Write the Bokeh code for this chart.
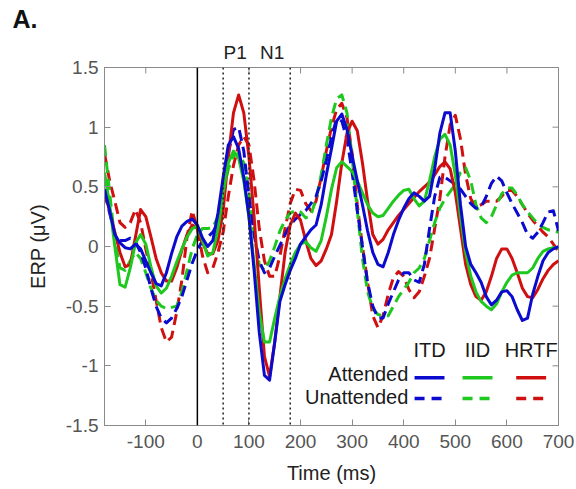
import math
from bokeh.plotting import figure
from bokeh.models import Range1d, FixedTicker, Span, CustomJSTickFormatter, Title
from bokeh.embed import file_html
from bokeh.resources import INLINE
from bokeh.core.properties import value

# ---------------- data ----------------
time_ms = list(range(-180, 701, 10))

itd_attended = [
    0.48, 0.30, 0.10, 0.03, -0.01, -0.02, 0.02, -0.02, -0.12, -0.22,
    -0.31, -0.33, -0.22, -0.06, 0.08, 0.17, 0.21, 0.23, 0.18, 0.07,
    0.00, 0.05, 0.28, 0.58, 0.85, 0.92, 0.82, 0.58, 0.25, -0.20,
    -0.72, -1.08, -1.12, -0.80, -0.46, -0.32, -0.20, -0.10, 0.02, 0.08,
    0.14, 0.18, 0.35, 0.60, 0.82, 1.05, 1.11, 0.98, 0.76, 0.55,
    0.35, 0.13, -0.05, -0.15, -0.17, -0.05, 0.10, 0.22, 0.32, 0.40,
    0.45, 0.42, 0.38, 0.42, 0.65, 0.95, 1.12, 1.12, 0.80, 0.35,
    0.00, -0.15, -0.22, -0.30, -0.42, -0.49, -0.45, -0.38, -0.37, -0.42,
    -0.53, -0.62, -0.60, -0.40, -0.25, -0.12, -0.05, -0.02, 0.00,
]
itd_unattended = [
    0.45, 0.28, 0.10, 0.05, 0.05, 0.07, 0.04, -0.05, -0.18, -0.35,
    -0.50, -0.60, -0.64, -0.60, -0.52, -0.42, -0.28, -0.14, -0.03, 0.05,
    0.08, 0.12, 0.20, 0.48, 0.78, 0.98, 1.00, 0.80, 0.42, 0.10,
    -0.12, -0.22, -0.18, -0.08, 0.01, 0.10, 0.18, 0.23, 0.27, 0.30,
    0.36, 0.42, 0.55, 0.72, 0.92, 1.07, 1.05, 0.90, 0.62, 0.30,
    0.00, -0.30, -0.50, -0.60, -0.60, -0.48, -0.38, -0.28, -0.22, -0.22,
    -0.28, -0.30, -0.15, 0.15, 0.42, 0.58, 0.58, 0.55, 0.52, 0.48,
    0.42, 0.36, 0.32, 0.33, 0.42, 0.53, 0.59, 0.55, 0.45, 0.36,
    0.28, 0.20, 0.10, 0.07, 0.12, 0.20, 0.29, 0.30, 0.13,
]
iid_attended = [
    0.62, 0.35, 0.00, -0.32, -0.34, -0.18, 0.03, 0.10, 0.02, -0.17,
    -0.33, -0.39, -0.35, -0.25, -0.13, -0.02, 0.08, 0.15, 0.17, 0.05,
    -0.08, -0.05, 0.15, 0.45, 0.70, 0.80, 0.74, 0.55, 0.25, -0.15,
    -0.55, -0.80, -0.80, -0.60, -0.42, -0.27, -0.15, -0.05, 0.02, 0.04,
    -0.01, -0.04, 0.05, 0.25, 0.48, 0.66, 0.71, 0.67, 0.63, 0.55,
    0.45, 0.35, 0.28, 0.25, 0.26, 0.32, 0.38, 0.43, 0.47, 0.48,
    0.40, 0.34, 0.38, 0.55, 0.75, 0.90, 0.94, 0.85, 0.60, 0.25,
    -0.05, -0.25, -0.38, -0.46, -0.50, -0.53, -0.48, -0.38, -0.30, -0.24,
    -0.22, -0.22, -0.22, -0.18, -0.10, -0.04, -0.02, -0.01, -0.01,
]
iid_unattended = [
    0.85, 0.45, 0.05, -0.18, -0.20, -0.12, -0.05, -0.10, -0.22, -0.35,
    -0.45, -0.50, -0.52, -0.51, -0.50, -0.38, -0.20, -0.02, 0.10, 0.15,
    0.15, 0.16, 0.25, 0.45, 0.65, 0.76, 0.78, 0.70, 0.45, 0.10,
    -0.15, -0.20, -0.12, 0.00, 0.13, 0.22, 0.28, 0.30, 0.29, 0.24,
    0.26, 0.40, 0.60, 0.85, 1.08, 1.24, 1.27, 1.12, 0.75, 0.30,
    -0.10, -0.38, -0.52, -0.57, -0.58, -0.58, -0.50, -0.42, -0.36, -0.30,
    -0.22, -0.18, -0.10, 0.05, 0.20, 0.32, 0.40, 0.46, 0.52, 0.62,
    0.66, 0.55, 0.35, 0.24, 0.20, 0.25, 0.35, 0.44, 0.49, 0.49,
    0.43, 0.35, 0.29, 0.24, 0.19, 0.16, 0.14, 0.13, 0.12,
]
hrtf_attended = [
    0.45, 0.30, 0.12, -0.05, -0.17, -0.15, 0.08, 0.31, 0.25, 0.08,
    -0.10, -0.22, -0.29, -0.29, -0.18, -0.03, 0.10, 0.18, 0.15, 0.03,
    -0.06, -0.06, 0.05, 0.30, 0.75, 1.12, 1.27, 1.12, 0.75, 0.25,
    -0.35, -0.92, -1.09, -0.80, -0.42, -0.05, 0.18, 0.28, 0.22, 0.05,
    -0.10, -0.16, -0.12, -0.02, 0.10, 0.38, 0.70, 0.95, 1.05, 0.97,
    0.70, 0.38, 0.10, 0.02, 0.06, 0.14, 0.20, 0.26, 0.31, 0.36,
    0.41, 0.46, 0.50, 0.54, 0.60, 0.67, 0.71, 0.65, 0.45, 0.15,
    -0.15, -0.32, -0.42, -0.45, -0.38, -0.25, -0.10, -0.02, -0.02, -0.10,
    -0.22, -0.35, -0.42, -0.43, -0.36, -0.27, -0.20, -0.15, -0.12,
]
hrtf_unattended = [
    0.78, 0.55, 0.38, 0.20, 0.16, 0.20, 0.31, 0.20, -0.02, -0.22,
    -0.45, -0.68, -0.80, -0.76, -0.55, -0.28, 0.08, 0.30, 0.15, -0.08,
    -0.22, -0.18, -0.05, 0.12, 0.42, 0.68, 0.85, 0.92, 0.85, 0.55,
    0.15, -0.12, -0.25, -0.25, -0.08, 0.15, 0.36, 0.48, 0.47, 0.36,
    0.30, 0.38, 0.58, 0.80, 1.00, 1.15, 1.20, 1.08, 0.78, 0.35,
    0.00, -0.30, -0.58, -0.68, -0.58, -0.40, -0.26, -0.21, -0.25, -0.36,
    -0.43, -0.38, -0.25, -0.10, 0.15, 0.40, 0.75, 1.02, 1.10, 0.90,
    0.60, 0.40, 0.33, 0.35, 0.38, 0.38, 0.38, 0.42, 0.47, 0.47,
    0.42, 0.35, 0.28, 0.22, 0.17, 0.12, 0.08, 0.02, -0.04,
]

cue_names = ["ITD", "IID", "HRTF"]
condition_names = ["Attended", "Unattended"]
window_lines_ms = [50, 100, 180]
component_text = "P1\u2002\u2009N1"
panel_text = "A."
x_ticks = [-100, 0, 100, 200, 300, 400, 500, 600, 700]
y_ticks = [-1.5, -1, -0.5, 0, 0.5, 1, 1.5]
x_lo, x_hi = -180, 700
y_lo, y_hi = -1.5, 1.5

# ---------------- style ----------------
FONT = "Liberation Sans"
BLUE, GREEN, RED = "#0b0bd0", "#1ec81e", "#d01010"
FRAME = "#8a8a8a"
DASH = "11 6"
LW = 3

p = figure(width=576, height=489, x_range=Range1d(x_lo, x_hi), y_range=Range1d(y_lo, y_hi),
           output_backend="svg", toolbar_location=None,
           min_border_left=104, min_border_right=18, min_border_top=66, min_border_bottom=64)
p.xgrid.visible = False
p.ygrid.visible = False
p.outline_line_color = FRAME
p.outline_line_width = 1
p.background_fill_color = "white"
p.border_fill_color = "white"

for ax in (p.xaxis[0], p.yaxis[0]):
    ax.axis_line_color = FRAME
    ax.major_tick_in = 6
    ax.major_tick_out = 0
    ax.major_tick_line_color = FRAME
    ax.minor_tick_line_color = None
    ax.major_label_text_font = FONT
    ax.major_label_text_font_size = "19px"
    ax.major_label_text_color = "#555555"
    ax.axis_label_text_font = FONT
    ax.axis_label_text_font_size = "20px"
    ax.axis_label_text_font_style = "normal"
    ax.axis_label_text_color = "#222222"

tick_fmt = CustomJSTickFormatter(code="return tick.toString();")
p.xaxis.ticker = FixedTicker(ticks=x_ticks)
p.yaxis.ticker = FixedTicker(ticks=y_ticks)
p.xaxis.formatter = tick_fmt
p.yaxis.formatter = tick_fmt
p.xaxis.axis_label = "Time (ms)"
p.yaxis.axis_label = "ERP (μV)"
p.xaxis.major_label_standoff = 9
p.xaxis.axis_label_standoff = 11
p.yaxis.major_label_standoff = 6
p.yaxis.axis_label_standoff = 14

# titles above the frame: component names row, then panel letter
t_comp = Title(text=component_text, align="left", offset=119, standoff=10,
               text_font=FONT, text_font_size="19px", text_font_style="normal", text_color="#222222")
t_panel = Title(text=panel_text, align="left", offset=-92, standoff=4,
                text_font=FONT, text_font_size="25px", text_font_style="bold", text_color="#111111")
p.add_layout(t_comp, "above")
p.add_layout(t_panel, "above")

# inward ticks on the top and right edges (box style)
p.scatter(x=x_ticks, y=[y_hi] * len(x_ticks), marker="dash", size=12, angle=math.pi / 2,
          line_color=FRAME, line_width=1)
p.scatter(x=[x_hi] * len(y_ticks), y=y_ticks, marker="dash", size=12,
          line_color=FRAME, line_width=1)

# stimulus onset and analysis windows
p.add_layout(Span(location=0, dimension="height", line_color="black", line_width=1.5))
for t in window_lines_ms:
    p.add_layout(Span(location=t, dimension="height", line_color="#222222",
                      line_width=1.5, line_dash="2 3"))

# ERP curves
series = [
    (hrtf_unattended, RED, DASH), (iid_unattended, GREEN, DASH), (itd_unattended, BLUE, DASH),
    (hrtf_attended, RED, "solid"), (iid_attended, GREEN, "solid"), (itd_attended, BLUE, "solid"),
]
for ys, col, dash in series:
    p.line(time_ms, ys, line_color=col, line_width=LW, line_dash=dash, line_cap="butt", line_join="round")

# manual legend grid
col_x = [450, 543, 647]
seg_half = 29
head_y = -0.865
row_y = [-1.10, -1.274]
row_text_y = [-1.065, -1.265]
row_text_x = 409
colors = [BLUE, GREEN, RED]
p.text(x=col_x, y=[head_y] * 3, text=cue_names, text_align="center", text_baseline="middle",
       text_font=value(FONT), text_font_size="20px", text_color="#1a1a1a")
p.text(x=[row_text_x] * 2, y=row_text_y, text=condition_names, text_align="right", text_baseline="middle",
       text_font=value(FONT), text_font_size="20px", text_color="#1a1a1a")
for ry, dash in zip(row_y, ["solid", "10 7"]):
    p.segment(x0=[c - seg_half for c in col_x], y0=[ry] * 3, x1=[c + seg_half for c in col_x], y1=[ry] * 3,
              line_color=colors, line_width=LW + 0.5, line_dash=dash)

open("out.html", "w").write(file_html(p, INLINE))
